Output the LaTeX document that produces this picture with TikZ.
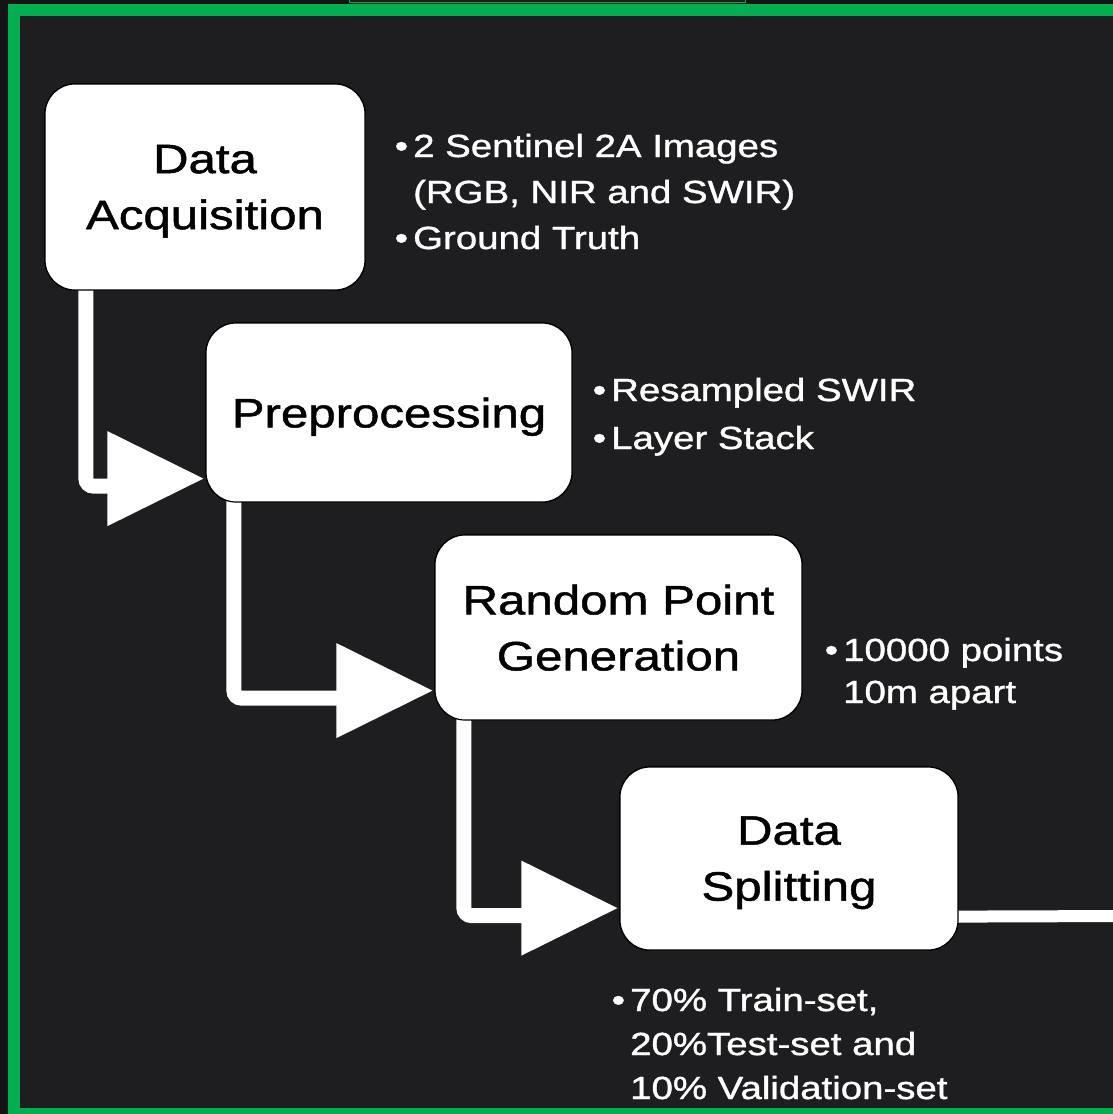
\documentclass[tikz,border=0pt]{standalone}
\usepackage{fontspec}
\setmainfont{Liberation Sans}
\newfontfamily\boxfont[FakeStretch=1.2,FakeBold=1.2]{Liberation Sans}
\newfontfamily\notefont[FakeStretch=1.2,FakeBold=1.2]{Liberation Sans}
\usetikzlibrary{calc}
\definecolor{framegreen}{HTML}{00B050}
\definecolor{slidebg}{HTML}{1E1D20}
\definecolor{outsidebg}{HTML}{141316}
\newcommand{\blt}{\llap{\textbullet\hspace{5pt}}}

\begin{document}
\begin{tikzpicture}[x=1pt,y=-1pt,
  stage/.style={draw=black, line width=1.2pt, fill=white, rounded corners=30pt,
    inner sep=0pt, align=center, text depth=0pt, font=\boxfont\fontsize{41}{56}\selectfont},
  link/.style={draw=white, line width=15pt, rounded corners=7.5pt},
  note/.style={text=white, inner sep=0pt, anchor=base west,
    font=\notefont\fontsize{32}{46}\selectfont}]

% slide background and green frame
\fill[outsidebg] (0,0) rectangle (1113,1114);
\useasboundingbox (0,0) rectangle (1113,1114);
\fill[framegreen] (8,4) rectangle (1125,1125);
\fill[slidebg] (20,16) rectangle (1125,1108);
\draw[framegreen, fill=slidebg, line width=1pt] (349,-5) rectangle (745,2.2);

% process stages (placed first so the connectors can refer to them)
\node[stage, minimum width=320pt, minimum height=206pt] (acq) at (205,187) {Data\\Acquisition};
\node[stage, minimum width=366pt, minimum height=179pt] (prep) at (389,412.5) {Preprocessing};
\node[stage, minimum width=367pt, minimum height=185pt] (rand) at (618.5,627.5) {Random Point\\Generation};
\node[stage, minimum width=338pt, minimum height=183pt] (split) at (789,858.5) {Data\\Splitting};

% bent arrows between stages
\coordinate (a1s) at ($(acq.south west)+(41.5,-6)$);
\coordinate (a1t) at ($(prep.south west)+(-2,-24)$);
\coordinate (a2s) at ($(prep.south west)+(28.5,-6)$);
\coordinate (a2t) at ($(rand.south west)+(-2,-30)$);
\coordinate (a3s) at ($(rand.south west)+(29.5,-6)$);
\coordinate (a3t) at ($(split.south west)+(-2,-42.5)$);
\coordinate (exit) at (1125,916);

\foreach \s/\t in {a1s/a1t, a2s/a2t, a3s/a3t}{
  \draw[link] (\s) |- ($(\t)+(-90,7.5)$);
  \fill[white] (\t) -- ++(-96,-47.5) -- ++(0,95) -- cycle;
}
\draw[white, line width=12pt] ($(split.south east)+(-3,-34)$) -- (exit);

% stages again, above the connectors
\node[stage, minimum width=320pt, minimum height=206pt] at (acq) {Data\\Acquisition};
\node[stage, minimum width=366pt, minimum height=179pt] at (prep) {Preprocessing};
\node[stage, minimum width=367pt, minimum height=185pt] at (rand) {Random Point\\Generation};
\node[stage, minimum width=338pt, minimum height=183pt] at (split) {Data\\Splitting};

% notes beside each stage
\node[note] (n1) at (413,157) {\begin{tabular}[t]{@{}l@{}}\blt 2 Sentinel 2A Images\\(RGB, NIR and SWIR)\\\blt Ground Truth\end{tabular}};
\node[note] (n2) at (611,401) {\begin{tabular}[t]{@{}l@{}}\blt Resampled SWIR\\[2pt]\blt Layer Stack\end{tabular}};
\node[note] (n3) at (843,661) {\begin{tabular}[t]{@{}l@{}}\blt 10000 points\\[-4pt]10m apart\end{tabular}};
\node[note] (n4) at (630,1011) {\begin{tabular}[t]{@{}l@{}}\blt 70\% Train-set,\\[-2pt]20\%Test-set and\\[-2pt]10\% Validation-set\end{tabular}};
\end{tikzpicture}
\end{document}
